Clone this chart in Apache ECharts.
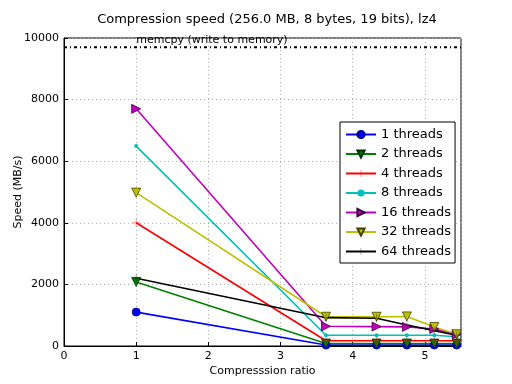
<!DOCTYPE html>
<html><head><meta charset="utf-8">
<script src="https://cdn.jsdelivr.net/npm/echarts@6/dist/echarts.min.js"></script>
<style>html,body{margin:0;padding:0;background:#fff}#c{width:512px;height:384px}</style>
</head><body><div id="c"></div>
<script>
var ratios = [1.0, 3.63, 4.33, 4.75, 5.13, 5.44];
var t1 = [1100, 30, 30, 30, 30, 30];
var t2 = [2080, 80, 80, 80, 80, 80];
var t4 = [4000, 170, 170, 170, 170, 170];
var t8 = [6490, 350, 350, 350, 350, 300];
var t16 = [7700, 640, 630, 620, 550, 380];
var t32 = [4980, 950, 950, 960, 620, 380];
var t64 = [2200, 920, 900, 680, 500, 350];
var memcpyValue = 9700;
var memcpyX = [0, 5.5];
var memcpyLabel = 'memcpy (write to memory)';
var seriesNames = ['1 threads','2 threads','4 threads','8 threads','16 threads','32 threads','64 threads'];

var FONT = 'DejaVu Sans';
var plus = 'path://M-0.12,-1h0.24v2h-0.24z M-1,-0.12h2v0.24h-2z';
function pts(v){ return ratios.map(function(x,i){ return [x, v[i]]; }); }
function mk(name, vals, color, symbol, size, rot, border, opacity){
  return {
    name: name, type: 'line', data: pts(vals),
    symbol: symbol, symbolSize: size, symbolRotate: rot || 0,
    showAllSymbol: true,
    lineStyle: { color: color, width: 1.6 },
    itemStyle: { color: color, borderColor: border || color, borderWidth: border ? 0.8 : 0, opacity: opacity || 1 },
    emphasis: { disabled: true },
    animation: false
  };
}
var series = [
  mk(seriesNames[0], t1, '#0000ff', 'circle', 8, 0, '#000080'),
  mk(seriesNames[1], t2, '#008000', 'triangle', 9, 180, '#003000'),
  mk(seriesNames[2], t4, '#ff0000', plus, 8, 0, null, 0.45),
  mk(seriesNames[3], t8, '#00bfbf', 'circle', 4, 0),
  mk(seriesNames[4], t16, '#bf00bf', 'triangle', 9, -90, '#400040'),
  mk(seriesNames[5], t32, '#bfbf00', 'triangle', 9, 180, '#404000'),
  mk(seriesNames[6], t64, '#000000', plus, 8, 0, null, 0.35)
];
series.push({
  name: 'memcpy', type: 'line', data: memcpyX.map(function(x){ return [x, memcpyValue]; }),
  symbol: 'none', lineStyle: { color: '#000', width: 2, type: [3, 3, 1, 3] },
  animation: false, silent: true,
  markPoint: {
    symbol: 'circle', symbolSize: 0, silent: true,
    data: [{ coord: [1, memcpyValue] }],
    label: { show: true, formatter: memcpyLabel, position: [0, -7], align: 'left', verticalAlign: 'middle',
             color: '#000', fontFamily: FONT, fontSize: 11 }
  }
});

var chart = echarts.init(document.getElementById('c'), null, { renderer: 'canvas' });
chart.setOption({
  backgroundColor: '#fff',
  animation: false,
  textStyle: { fontFamily: FONT },
  title: { text: 'Compression speed (256.0 MB, 8 bytes, 19 bits), lz4', left: 262, top: 8, textAlign: 'center',
           textStyle: { fontFamily: FONT, fontSize: 13, fontWeight: 'normal', color: '#000' } },
  grid: { left: 64, top: 38, width: 397, height: 308, show: true, borderColor: '#000', borderWidth: 1,
          containLabel: false, outerBoundsMode: 'none' },
  legend: {
    data: seriesNames, orient: 'vertical', left: 340, top: 122, width: 114,
    padding: [6, 4, 5, 5], itemGap: 6.5, itemWidth: 30, itemHeight: 9,
    backgroundColor: '#fff', borderColor: '#000', borderWidth: 1, borderRadius: 0,
    textStyle: { fontFamily: FONT, fontSize: 13, color: '#000' }
  },
  xAxis: {
    type: 'value', min: 0, max: 5.5, interval: 1,
    name: 'Compresssion ratio', nameLocation: 'middle', nameGap: 20, nameMoveOverlap: false,
    nameTextStyle: { fontFamily: FONT, fontSize: 11, color: '#000' },
    axisLine: { show: true, onZero: false, lineStyle: { color: '#000' } },
    axisTick: { show: true, inside: true, length: 4, lineStyle: { color: '#000' } },
    axisLabel: { color: '#000', fontFamily: FONT, fontSize: 11, margin: 5, showMaxLabel: false,
                 formatter: function(v){ return Number.isInteger(v) ? String(v) : ''; } },
    splitLine: { show: true, lineStyle: { color: '#b0b0b0', type: [1, 3], width: 1 } }
  },
  yAxis: {
    type: 'value', min: 0, max: 10000, interval: 2000,
    name: 'Speed (MB/s)', nameLocation: 'middle', nameGap: 40, nameRotate: 90, nameMoveOverlap: false,
    nameTextStyle: { fontFamily: FONT, fontSize: 11, color: '#000' },
    axisLine: { show: true, lineStyle: { color: '#000' } },
    axisTick: { show: true, inside: true, length: 4, lineStyle: { color: '#000' } },
    axisLabel: { color: '#000', fontFamily: FONT, fontSize: 11, margin: 5, formatter: function(v){ return String(v); } },
    splitLine: { show: true, lineStyle: { color: '#b0b0b0', type: [1, 3], width: 1 } }
  },
  series: series
});
</script></body></html>
